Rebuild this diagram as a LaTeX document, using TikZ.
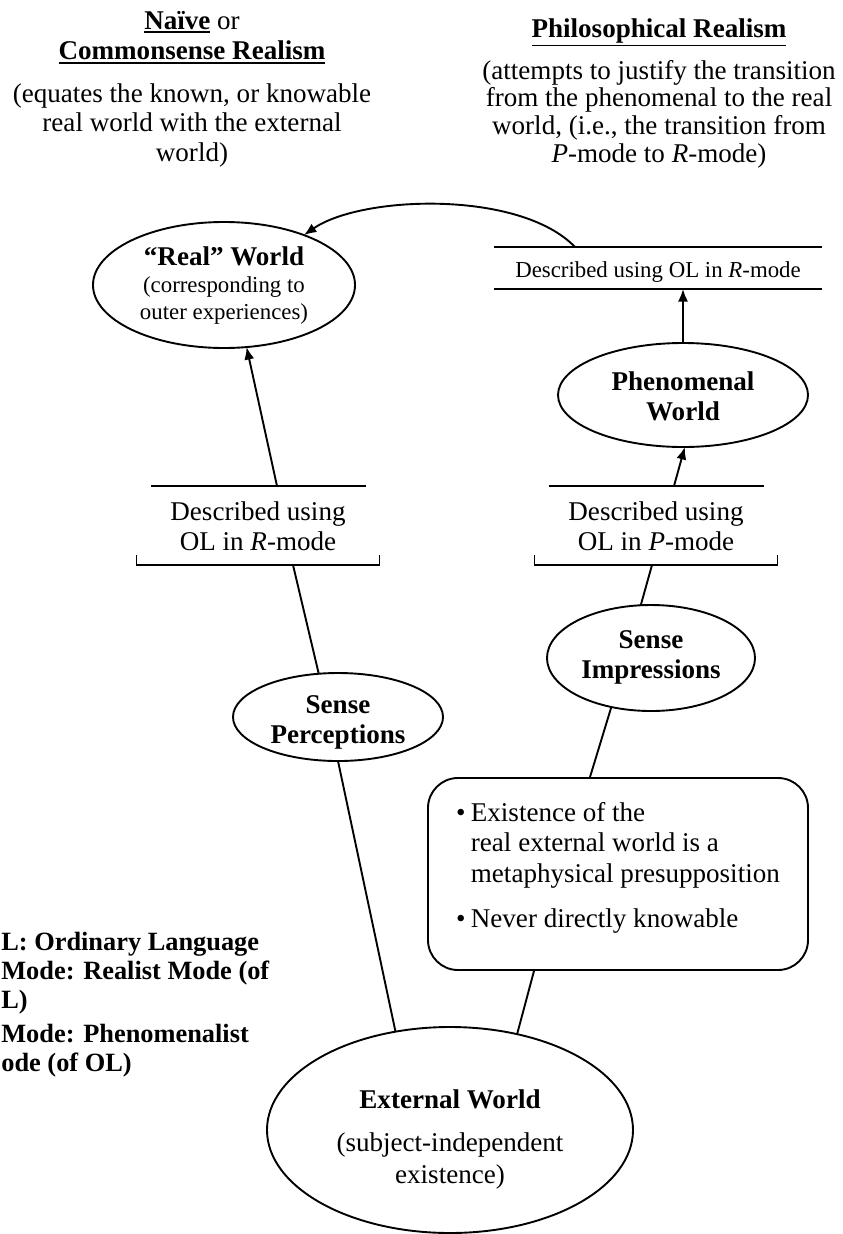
\documentclass[tikz,border=0pt]{standalone}
\usepackage{fontspec}
\setmainfont{Liberation Serif}
\usetikzlibrary{arrows.meta,shapes.geometric}
\newcommand\myul[1]{\setbox0\hbox{#1}\rlap{\rule[-\dimexpr\dp0+2pt\relax]{\wd0}{0.9pt}}\box0\relax}
\begin{document}
\begin{tikzpicture}[x=0.2mm,y=-0.2mm,
  ln/.style={line width=0.38mm},
  arr/.style={ln,-{Latex[length=2.5mm,width=2mm]}},
  ell/.style={ellipse,draw,ln,inner sep=0pt,outer sep=0pt},
  brk/.style={inner sep=0pt,outer sep=0pt,minimum width=43mm,minimum height=15.8mm,
    text height=6.8mm,text depth=9mm,font=\fontsize{15.4}{17.6}\selectfont},
  txt/.style={inner sep=0pt,anchor=base},
]
\useasboundingbox (0,0) rectangle (843,1234);
\fill[white] (0,0) rectangle (843,1234);

% titles
\node[txt,font=\fontsize{15.4}{17.6}\selectfont] (lt) at (192,29)
  {\begin{tabular}[t]{@{}c@{}}\myul{\textbf{Naïve}}\ or\\\myul{\textbf{Commonsense Realism}}\end{tabular}};
\node[txt,font=\fontsize{15.4}{16.8}\selectfont] (lp) at (192,102)
  {\begin{tabular}[t]{@{}c@{}}(equates the known, or knowable\\real world with the external\\world)\end{tabular}};
\node[txt,font=\fontsize{15.4}{17}\selectfont] (rt) at (659,37)
  {\myul{\textbf{Philosophical Realism}}};
\node[txt,font=\fontsize{15.4}{15.9}\selectfont] (rp) at (659,79)
  {\begin{tabular}[t]{@{}c@{}}(attempts to justify the transition\\from the phenomenal to the real\\world, (i.e., the transition from\\\textit{P}-mode to \textit{R}-mode)\end{tabular}};

% ellipses
\node[ell,minimum width=52.4mm,minimum height=25.2mm,text height=4mm,text depth=12mm,
  font=\fontsize{13}{15.6}\selectfont] (rw) at (224,285)
  {\begin{tabular}[t]{@{}c@{}}{\fontsize{15.4}{15.6}\selectfont\bfseries “Real” World}\\(corresponding to\\outer experiences)\end{tabular}};
\node[ell,minimum width=50mm,minimum height=20.8mm,text height=4mm,text depth=6mm,
  font=\fontsize{15.4}{17.1}\selectfont\bfseries] (pw) at (683,395)
  {\begin{tabular}[t]{@{}c@{}}Phenomenal\\World\end{tabular}};
\node[ell,minimum width=41.6mm,minimum height=21.2mm,text height=4mm,text depth=8mm,
  font=\fontsize{15.4}{17.1}\selectfont\bfseries] (si) at (651,658)
  {\begin{tabular}[t]{@{}c@{}}Sense\\Impressions\end{tabular}};
\node[ell,minimum width=42mm,minimum height=17.6mm,text height=4mm,text depth=5.6mm,
  font=\fontsize{15.4}{17.1}\selectfont\bfseries] (sp) at (338,717)
  {\begin{tabular}[t]{@{}c@{}}Sense\\Perceptions\end{tabular}};
\node[ell,minimum width=73.2mm,minimum height=41.2mm,text height=4mm,text depth=12.8mm,
  font=\fontsize{15.4}{18.2}\selectfont] (ew) at (450,1130)
  {\begin{tabular}[t]{@{}c@{}}\textbf{External World}\\[6.3pt](subject-independent\\existence)\end{tabular}};

% brackets
\node[brk] (lb) at (258,525.5)
  {\begin{tabular}[t]{@{}c@{}}Described using\\OL in \textit{R}-mode\end{tabular}};
\node[brk] (rb) at (656,525.5)
  {\begin{tabular}[t]{@{}c@{}}Described using\\OL in \textit{P}-mode\end{tabular}};
\node[inner sep=0pt,outer sep=0pt,minimum width=65.6mm,minimum height=8.4mm,text height=6mm,
  text depth=2.4mm,font=\fontsize{13}{15}\selectfont] (tb) at (658,268)
  {Described using OL in \textit{R}-mode};
\foreach \b in {lb,rb} {
  \draw[ln] (\b.north west) -- (\b.north east);
  \draw[ln] ([xshift=-2.8mm,yshift=2mm]\b.south west) -- ([xshift=-2.8mm]\b.south west)
    -- ([xshift=2.8mm]\b.south east) -- ([xshift=2.8mm,yshift=2mm]\b.south east);
}
\draw[ln] (tb.north west) -- (tb.north east);
\draw[ln] (tb.south west) -- (tb.south east);

% box
\node[draw,ln,rounded corners=6mm,inner sep=0pt,minimum width=76mm,minimum height=38.4mm,
  text height=8.6mm,text depth=29.8mm,font=\fontsize{15.4}{17.6}\selectfont] (bx) at (618,874)
  {\begin{tabular}[t]{@{}l@{\hspace{3pt}}l@{}}\textbullet & Existence of the\\ & real external world is a\\ & metaphysical presupposition\\[8pt]\textbullet & Never directly knowable\end{tabular}};

% legend (cut at the left edge as in the picture)
\node[anchor=base west,inner sep=0pt,font=\fontsize{15}{16.5}\selectfont\bfseries] (lg) at (1,950)
  {\begin{tabular}[t]{@{}l@{}}L: Ordinary Language\\Mode: Realist Mode (of\\L)\\[3.4pt]Mode: Phenomenalist\\ode (of OL)\end{tabular}};

% connectors
\draw[arr] ([xshift=3.8mm]lb.north) -- (rw.-70);
\draw[ln] ([xshift=7mm]lb.south) -- (sp.114);
\draw[ln] (sp.south) -- (ew.119);
\draw[ln] (ew.55) -- ([xshift=-16.8mm]bx.south);
\draw[ln] ([xshift=-5.6mm]bx.north) -- (si.-129);
\draw[ln] (si.101) -- ([xshift=-0.8mm]rb.south);
\draw[arr] ([xshift=3.6mm]rb.north) -- (pw.-88);
\draw[arr] (pw.north) -- (pw.north |- tb.south);
\draw[arr] ([xshift=-16.6mm]tb.north) .. controls +(-55,-57) and +(58,-40) .. (rw.32);
\end{tikzpicture}
\end{document}
